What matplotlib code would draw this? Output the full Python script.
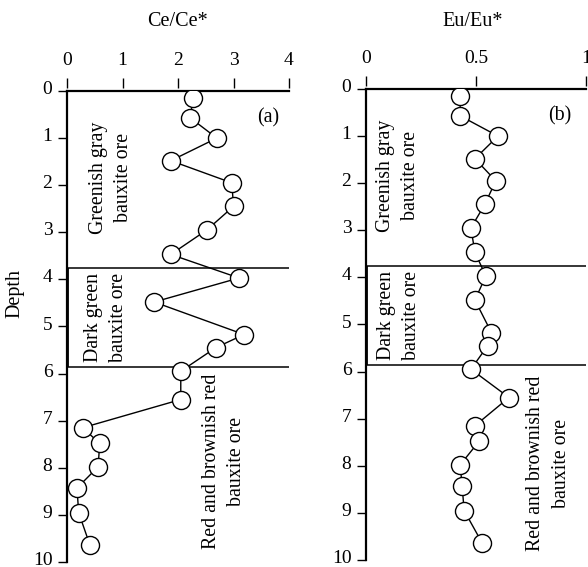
import numpy as np
import matplotlib.pyplot as plt
import matplotlib.transforms as mtransforms

plt.rcParams['font.family'] = ['Liberation Serif', 'DejaVu Serif']

# profundidad de las muestras
depth = [0.15, 0.57, 1.0, 1.48, 1.95, 2.45, 2.95, 3.47, 3.97, 4.48,
         5.17, 5.45, 5.95, 6.55, 7.15, 7.48, 7.98, 8.43, 8.95, 9.63]
ce_ratio = [2.27, 2.22, 2.70, 1.87, 2.97, 3.0, 2.52, 1.87, 3.10, 1.57,
            3.19, 2.68, 2.05, 2.05, 0.28, 0.59, 0.56, 0.18, 0.21, 0.41]
eu_ratio = [0.428, 0.428, 0.60, 0.495, 0.59, 0.54, 0.477, 0.495, 0.545, 0.495,
            0.57, 0.553, 0.477, 0.65, 0.495, 0.514, 0.428, 0.437, 0.446, 0.527]

zone_top = 3.76
zone_bottom = 5.87

fig = plt.figure(figsize=(5.88, 5.67), dpi=100)
ax1 = fig.add_axes([67/588, 1-562/567, 222/588, 471/567])
ax2 = fig.add_axes([366/588, 1-560/567, 220/588, 471/567])

fs = 14
fs_txt = 14.3

def style(ax, xmax, xticks, xlabels, tag, tagx, labels):
    ax.set_xlim(0, xmax)
    ax.set_ylim(10, 0)
    ax.spines['right'].set_visible(False)
    ax.spines['bottom'].set_visible(False)
    ax.spines['top'].set_position(('outward', 2.5))
    ax.spines['top'].set_color('none')
    ax.spines['left'].set_linewidth(1.6)
    ax.xaxis.tick_top()
    ax.set_xticks(xticks)
    ax.set_xticklabels(xlabels)
    ax.set_yticks(range(0, 11))
    ax.tick_params(axis='x', length=7, width=1, pad=6, labelsize=fs)
    ax.tick_params(axis='y', length=6.5, width=1, pad=4, labelsize=fs)
    # subir un poco las etiquetas del eje y
    off = mtransforms.ScaledTranslation(0, 2.5/72, fig.dpi_scale_trans)
    for lab in ax.get_yticklabels():
        lab.set_transform(lab.get_transform() + off)
    ax.axhline(0, color='k', lw=1.6, clip_on=False)
    ax.hlines([zone_top, zone_bottom], 0, xmax, color='k', lw=1.1)
    ax.vlines(xmax*0.006, zone_top, zone_bottom, color='k', lw=1.3)
    ax.text(tagx, 0.58, tag, fontsize=fs_txt, ha='center', va='center')
    for (tx, ty, s) in labels:
        ax.text(tx, ty, s, rotation=90, ha='center', va='center',
                multialignment='center', fontsize=fs_txt, linespacing=1.45)

style(ax1, 4, [0, 1, 2, 3, 4], ['0', '1', '2', '3', '4'], '(a)', 3.62,
      [(0.79, 1.84, 'Greenish gray\nbauxite ore'),
       (0.70, 4.8, 'Dark green\nbauxite ore'),
       (2.83, 7.87, 'Red and brownish red\nbauxite ore')])
style(ax2, 1, [0, 0.5, 1], ['0', '0.5', '1'], '(b)', 0.88,
      [(0.145, 1.84, 'Greenish gray\nbauxite ore'),
       (0.15, 4.8, 'Dark green\nbauxite ore'),
       (0.83, 7.95, 'Red and brownish red\nbauxite ore')])

ax1.plot(ce_ratio, depth, color='k', lw=1, marker='o', markersize=13,
         markerfacecolor='white', markeredgecolor='k', markeredgewidth=1, zorder=3)
ax2.plot(eu_ratio, depth, color='k', lw=1, marker='o', markersize=13,
         markerfacecolor='white', markeredgecolor='k', markeredgewidth=1, zorder=3)

fig.text(178/588, 1-22/567, 'Ce/Ce*', ha='center', va='center', fontsize=14.5)
fig.text(473/588, 1-22/567, 'Eu/Eu*', ha='center', va='center', fontsize=14.5)
fig.text(15/588, 1-293/567, 'Depth', rotation=90, ha='center', va='center', fontsize=14.5)

fig.savefig('out.png', dpi=100)
